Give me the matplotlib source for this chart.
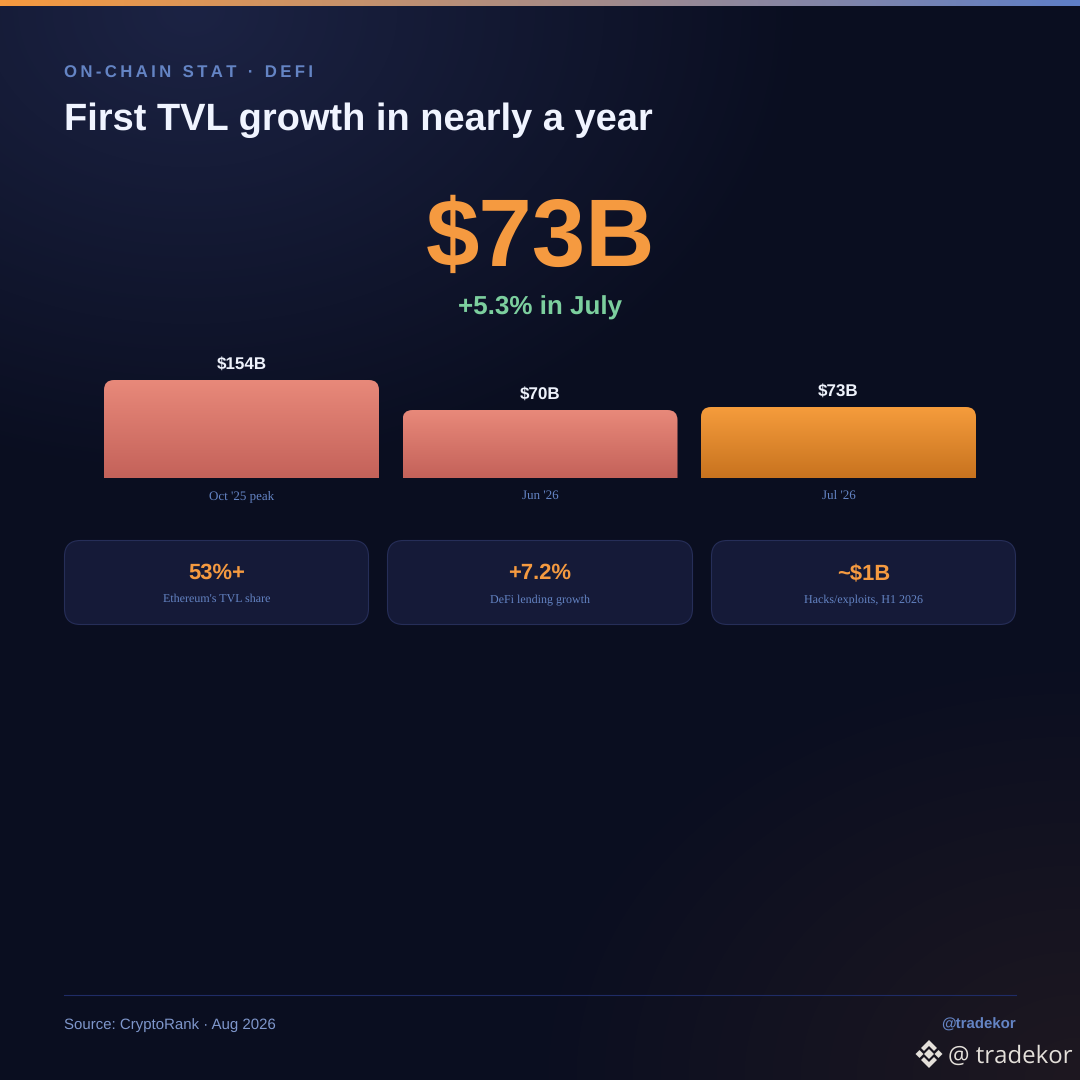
import numpy as np
import matplotlib
matplotlib.use('Agg')
import matplotlib.pyplot as plt
from matplotlib.patches import FancyBboxPatch, PathPatch, Polygon
from matplotlib.path import Path
from matplotlib.colors import LinearSegmentedColormap

plt.rcParams['text.hinting'] = 'none'

# data
categories = ["Oct '25 peak", "Jun '26", "Jul '26"]
bar_labels = ['$154B', '$70B', '$73B']
# drawn heights (the bars are not to scale with the labels)
bar_heights = [98, 68, 71]
bar_top_colors = ['#e8897a', '#e8897a', '#f59c3c']
bar_bottom_colors = ['#c4625a', '#c4625a', '#c8731f']

card_values = ['53%+', '+7.2%', '~$1B']
card_labels = ["Ethereum's TVL share", 'DeFi lending growth', 'Hacks/exploits, H1 2026']

eyebrow = 'ON-CHAIN STAT · DEFI'
title = 'First TVL growth in nearly a year'
big_stat = '$73B'
big_sub = '+5.3% in July'
source = 'Source: CryptoRank · Aug 2026'
handle = '@tradekor'

SANS = ['Liberation Sans', 'DejaVu Sans']
SERIF = ['Liberation Serif', 'DejaVu Serif']
ORANGE = '#f59a40'
BLUE = '#6484c4'
px = 0.72  # font px to pt at dpi 100

fig = plt.figure(figsize=(10.8, 10.8), dpi=100, facecolor='#0a0e20')

# full page layer in pixel coordinates
page = fig.add_axes([0, 0, 1, 1])
page.set_xlim(0, 1080)
page.set_ylim(1080, 0)
page.axis('off')

# background glows
yy, xx = np.mgrid[0:1080, 0:1080]
base = np.array([10, 14, 32], dtype=float)
cool = np.clip(1 - np.hypot((xx - 190) / 620, (yy - 10) / 470), 0, 1)[..., None]
warm = np.clip(1 - np.hypot((xx - 1080) / 560, (yy - 1080) / 430), 0, 1)[..., None]
bg = base + cool * np.array([18, 21, 36]) + warm * np.array([20, 10, 0])
page.imshow(bg / 255, extent=[0, 1080, 1080, 0], aspect='auto', zorder=0, interpolation='bilinear')

# top strip
strip = LinearSegmentedColormap.from_list('strip', ['#f79a3f', '#5f7fc8'])
page.imshow(np.linspace(0, 1, 540)[None, :], cmap=strip, extent=[0, 1080, 6, 0], aspect='auto', zorder=1)
page.set_xlim(0, 1080)
page.set_ylim(1080, 0)

# header
page.text(64, 78, '\u2009'.join(eyebrow), family=SANS, weight='bold', size=16.8 * px, color=BLUE, va='baseline')
page.text(64, 130, title, family=SANS, weight='bold', size=38 * px, color='#f0f4ff', va='baseline')
page.text(540, 265.5, big_stat, family=SANS, weight='bold', size=96 * px, color=ORANGE, ha='center', va='baseline')
page.text(540, 315, big_sub, family=SANS, weight='bold', size=26 * px, color='#7ccf9e', ha='center', va='baseline')

# bars
ax = fig.add_axes([104 / 1080, 1 - 478 / 1080, 872 / 1080, 130 / 1080])
ax.patch.set_alpha(0)
x = np.arange(len(categories))
bar_w = 275 / 298.5
ax.set_xlim(-bar_w / 2, 2 + bar_w / 2)
ax.set_ylim(0, 130)
for s in ax.spines.values():
    s.set_visible(False)
ax.set_yticks([])
ax.set_xticks(x, categories, family=SERIF, size=13 * px, color=BLUE, va='baseline')
ax.tick_params(axis='x', length=0, pad=15)

rects = ax.bar(x, bar_heights, width=bar_w, color='none')
rx = 10 / 298.5
ry = 10
for rect, lab, c0, c1 in zip(rects, bar_labels, bar_top_colors, bar_bottom_colors):
    x0, w, h = rect.get_x(), rect.get_width(), rect.get_height()
    verts = [(x0, 0), (x0, h - ry), (x0, h), (x0 + rx, h), (x0 + w - rx, h), (x0 + w, h), (x0 + w, h - ry), (x0 + w, 0), (x0, 0)]
    codes = [Path.MOVETO, Path.LINETO, Path.CURVE3, Path.CURVE3, Path.LINETO, Path.CURVE3, Path.CURVE3, Path.LINETO, Path.CLOSEPOLY]
    clip = PathPatch(Path(verts, codes), fc='none', ec='none', transform=ax.transData)
    ax.add_patch(clip)
    cmap = LinearSegmentedColormap.from_list('bar', [c0, c1])
    im = ax.imshow(np.linspace(0, 1, 100)[:, None], cmap=cmap, extent=[x0, x0 + w, 0, h], aspect='auto', zorder=2)
    im.set_clip_path(clip)
    ax.text(rect.get_x() + w / 2, h + 11, lab, family=SANS, weight='bold', size=17 * px, color='#eef2fb', ha='center', va='baseline')
ax.set_xlim(-bar_w / 2, 2 + bar_w / 2)
ax.set_ylim(0, 130)

# stat cards
card_x = [64.5, 387.5, 711.5]
card_w = [304, 305, 304]
for cx, cw, val, lab in zip(card_x, card_w, card_values, card_labels):
    page.add_patch(FancyBboxPatch((cx + 16, 540.5 + 16), cw - 32, 84 - 32, boxstyle='round,pad=16,rounding_size=16',
                                  fc='#151a38', ec='#262e58', lw=0.8, zorder=2))
    page.text(cx + cw / 2, 579, val, family=SANS, weight='bold', size=22 * px, color=ORANGE, ha='center', va='baseline', zorder=3)
    page.text(cx + cw / 2, 602, lab, family=SERIF, size=12 * px, color=BLUE, ha='center', va='baseline', zorder=3)

# footer
page.plot([64, 1016], [994.5, 994.5], color='#1f2c66', lw=0.8, zorder=2)
page.text(64, 1029, source, family=SANS, size=15 * px, color='#7f97cc', va='baseline', zorder=3)
page.text(1016, 1029, handle, family=SANS, weight='bold', size=15 * px, color=BLUE, ha='right', va='baseline', zorder=3)

# watermark
wm = '#e4e0da'
lx, ly = 929, 1054
for pts in [
    [(0, -5), (5, 0), (0, 5), (-5, 0)],
    [(-9.5, -4), (-5.5, 0), (-9.5, 4), (-13.5, 0)],
    [(9.5, -4), (13.5, 0), (9.5, 4), (5.5, 0)],
    [(0, -14), (8, -6), (5, -3), (0, -8), (-5, -3), (-8, -6)],
    [(0, 14), (8, 6), (5, 3), (0, 8), (-5, 3), (-8, 6)],
]:
    page.add_patch(Polygon([(lx + a, ly + b) for a, b in pts], fc=wm, ec='none', zorder=4))
page.text(948, 1063, '@ tradekor', family=['Open Sans', 'DejaVu Sans'], size=24 * px, color=wm, va='baseline', zorder=4)

fig.savefig('out.png', dpi=100, facecolor=fig.get_facecolor())
